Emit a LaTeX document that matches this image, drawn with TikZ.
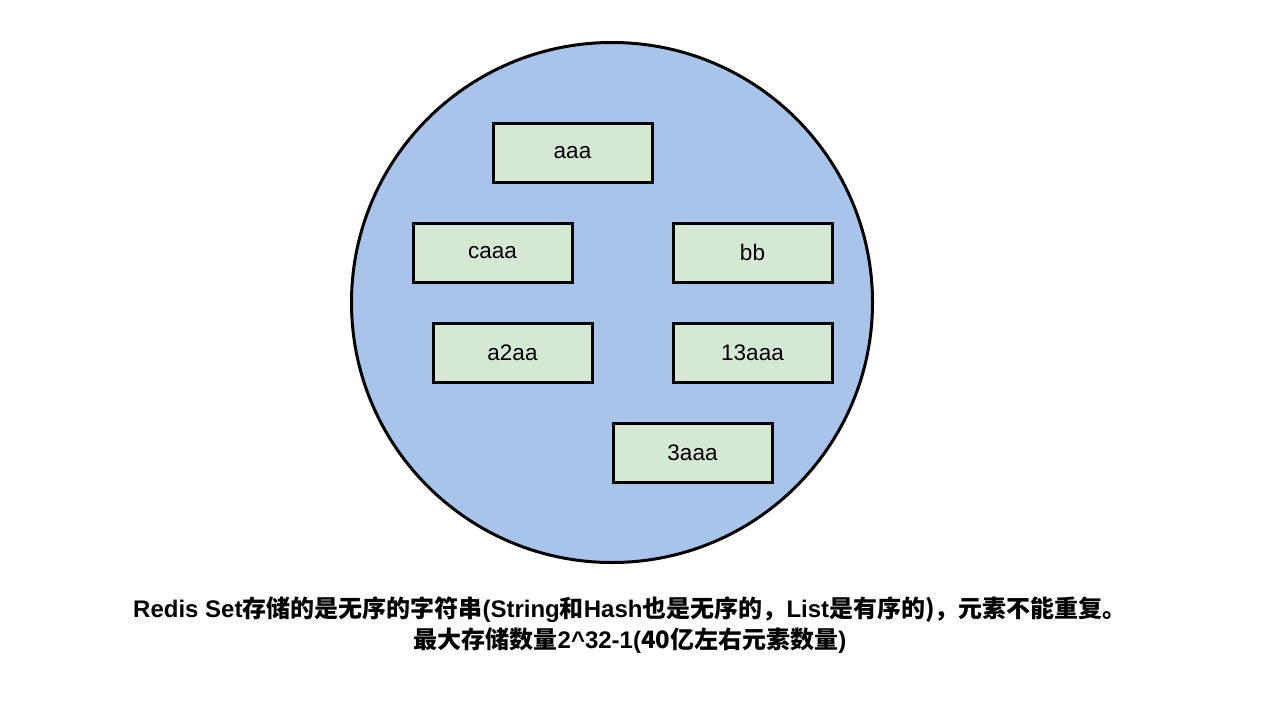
\documentclass[tikz,border=0pt]{standalone}
\usepackage{fontspec}
\usetikzlibrary{shapes.geometric}
\setmainfont{Liberation Sans}
\newfontfamily\cjk{Noto Sans CJK SC}
\definecolor{circ}{HTML}{A9C4EB}
\definecolor{boxg}{HTML}{D5E8D4}
\tikzset{elem/.style={draw=black,line width=3pt,fill=boxg,minimum width=159pt,minimum height=59pt,inner sep=0pt,text depth=0pt,font=\fontsize{22.5}{25}\selectfont}}
\begin{document}
\begin{tikzpicture}[x=1pt,y=-1pt]
\useasboundingbox (0,0) rectangle (1264,704);
\node[draw=black,line width=3pt,fill=circ,ellipse,minimum width=521pt,minimum height=520pt,inner sep=0pt] (set) at (612,302.5) {};
\node[elem] (a) at (572.5,152.5) {aaa};
\node[elem] (c) at (492.5,252.5) {caaa};
\node[elem] (b) at (752.5,252.5) {bb};
\node[elem] (a2) at (512.5,352.5) {a2aa};
\node[elem] (d) at (752.5,352.5) {13aaa};
\node[elem] (e) at (692.5,452.5) {3aaa};
\node[font=\fontsize{24}{31}\selectfont\bfseries,align=center] (cap) at (630,625) {Redis Set{\cjk 存储的是无序的字符串}(String{\cjk 和}Hash{\cjk 也是无序的，}List{\cjk 是有序的)，元素不能重复。}\\{\cjk 最大存储数量}2\textasciicircum32-1({\cjk 40亿左右元素数量})};
\end{tikzpicture}
\end{document}
